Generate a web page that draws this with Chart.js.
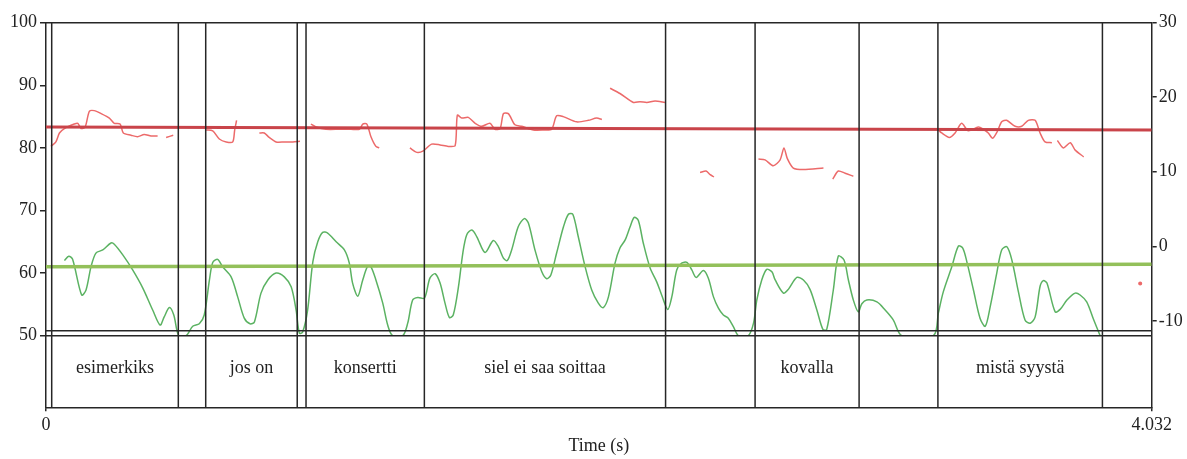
<!DOCTYPE html>
<html>
<head>
<meta charset="utf-8">
<script src="https://cdn.jsdelivr.net/npm/chart.js@4"></script>
<style>
html, body { margin: 0; padding: 0; background: #fff; }
#wrap { width: 1187px; height: 459px; }
</style>
</head>
<body>
<div id="wrap"><canvas id="chart" width="1187" height="459"></canvas></div>
<script>
// time axis (s)
const timeMin = 0;
const timeMax = 4.032;
const timeTicks = [0, 4.032];
const dbTicks = [50, 60, 70, 80, 90, 100];
const stTicks = [-10, 0, 10, 20, 30];

// intensity contour (dB, left axis)
const intensityTimes = [
    0.067, 0.083, 0.097, 0.130, 0.146, 0.164, 0.182, 0.207, 0.237, 0.249, 0.280, 0.316, 0.353, 0.389, 0.416,
    0.431, 0.450, 0.466, 0.484, 0.511, 0.535, 0.559, 0.577, 0.596, 0.608, 0.626, 0.644, 0.675, 0.699, 0.723,
    0.744, 0.760, 0.784, 0.809, 0.839, 0.869, 0.894, 0.912, 0.924, 0.936, 0.954, 0.973, 0.991, 1.009, 1.027,
    1.058, 1.088, 1.106, 1.118, 1.137, 1.155, 1.173, 1.185, 1.203, 1.228, 1.246, 1.264, 1.301, 1.319, 1.337,
    1.356, 1.380, 1.400, 1.419, 1.437, 1.455, 1.471, 1.485, 1.504, 1.520, 1.534, 1.553, 1.571, 1.601, 1.631,
    1.650, 1.668, 1.682, 1.698, 1.722, 1.744, 1.759, 1.783, 1.808, 1.826, 1.841, 1.862, 1.887, 1.905, 1.921,
    1.941, 1.966, 1.990, 2.014, 2.032, 2.051, 2.075, 2.093, 2.112, 2.130, 2.145, 2.160, 2.178, 2.203, 2.227,
    2.245, 2.267, 2.282, 2.300, 2.318, 2.337, 2.355, 2.371, 2.397, 2.415, 2.434, 2.452, 2.470, 2.488, 2.507,
    2.525, 2.561, 2.580, 2.592, 2.610, 2.628, 2.647, 2.659, 2.689, 2.707, 2.738, 2.762, 2.786, 2.811, 2.833,
    2.847, 2.871, 2.889, 2.910, 2.926, 2.944, 2.962, 2.975, 2.993, 3.030, 3.060, 3.090, 3.121, 3.236, 3.254,
    3.272, 3.303, 3.327, 3.343, 3.358, 3.382, 3.406, 3.425, 3.443, 3.467, 3.485, 3.504, 3.522, 3.546, 3.570,
    3.589, 3.607, 3.625, 3.637, 3.650, 3.680, 3.698, 3.723, 3.753, 3.771, 3.795, 3.819, 3.844
];
const intensityDb = [
    62.0, 62.7, 62.2, 56.5, 57.3, 61.0, 63.2, 63.7, 64.8, 64.6, 62.9, 60.5, 57.6, 54.1, 51.7,
    53.0, 54.5, 53.3, 50.0, 50.0, 51.5, 51.9, 53.3, 58.9, 61.7, 62.2, 61.0, 59.4, 56.2, 52.8,
    51.9, 52.2, 56.8, 58.9, 60.0, 59.4, 57.8, 54.1, 50.4, 50.6, 54.1, 61.8, 65.0, 66.5, 66.4,
    65.0, 63.7, 61.6, 58.4, 56.3, 58.9, 61.1, 61.0, 58.9, 55.2, 51.7, 50.0, 50.0, 52.0, 55.7,
    56.1, 56.0, 59.2, 59.9, 58.4, 55.2, 52.9, 53.3, 57.8, 63.2, 66.1, 66.9, 65.8, 63.3, 65.2,
    64.2, 62.4, 62.0, 63.7, 67.4, 68.7, 68.0, 63.7, 60.2, 59.1, 59.7, 63.2, 67.4, 69.4, 69.4,
    65.8, 61.0, 57.3, 55.2, 54.5, 56.2, 61.6, 64.0, 65.3, 67.4, 68.9, 68.4, 64.8, 60.8, 58.6,
    56.5, 54.2, 56.2, 60.5, 61.6, 61.7, 60.5, 59.3, 60.4, 59.2, 56.2, 54.4, 53.3, 52.8, 51.4,
    50.0, 50.0, 52.0, 55.7, 58.9, 60.6, 60.2, 58.9, 56.8, 57.4, 59.3, 58.9, 57.4, 54.1, 51.0,
    51.0, 57.3, 62.7, 62.1, 58.9, 55.7, 53.8, 55.1, 55.7, 55.4, 54.1, 52.5, 50.0, 50.0, 53.6,
    57.0, 61.0, 64.3, 64.0, 61.8, 57.3, 52.8, 51.5, 54.6, 60.0, 63.7, 64.2, 62.1, 57.0, 52.5,
    52.0, 53.0, 57.9, 58.8, 58.4, 53.8, 54.2, 55.7, 56.8, 56.5, 55.4, 52.7, 50.0
];

// pitch contour (semitones, right axis); null = unvoiced gap
const pitchTimes = [
    0.018, 0.036, 0.049, 0.067, 0.103, 0.116, 0.128, 0.143, 0.158, 0.176, 0.201, 0.231, 0.249, 0.270, 0.282, 0.310, 0.334, 0.358, 0.383, 0.407, 0.42,
    0.438, 0.464, 0.52,
    0.584, 0.608, 0.632, 0.657, 0.681, 0.688, 0.695, 0.74,
    0.778, 0.796, 0.814, 0.839, 0.869, 0.900, 0.926, 0.95,
    0.966, 0.985, 1.021, 1.070, 1.112, 1.143, 1.155, 1.170, 1.185, 1.203, 1.215, 1.27,
    1.327, 1.352, 1.376, 1.406, 1.437, 1.467, 1.492, 1.500, 1.516, 1.540, 1.565, 1.589, 1.619, 1.637, 1.656, 1.668, 1.686, 1.710, 1.735, 1.777, 1.814, 1.844, 1.862, 1.886, 1.935, 1.978, 2.008, 2.027, 2.04,
    2.057, 2.093, 2.142, 2.166, 2.191, 2.221, 2.257, 2.32,
    2.385, 2.407, 2.422, 2.436, 2.52,
    2.598, 2.622, 2.652, 2.677, 2.691, 2.703, 2.725, 2.762, 2.835, 2.85,
    2.869, 2.889, 2.914, 2.944, 3.1,
    3.254, 3.266, 3.294, 3.315, 3.339, 3.363, 3.400, 3.418, 3.436, 3.452, 3.469, 3.485, 3.503, 3.534, 3.558, 3.582, 3.607, 3.625, 3.643, 3.668, 3.678,
    3.688, 3.710, 3.735, 3.753, 3.784, 3.9,
    3.990
];
const pitchSt = [
    13.4, 14.0, 15.2, 15.8, 16.4, 16.5, 15.8, 16.0, 18.1, 18.2, 17.8, 17.2, 16.5, 16.4, 15.2, 14.9, 14.7, 15.0, 14.8, 14.8, null,
    14.6, 14.9, null,
    15.6, 15.5, 14.4, 14.0, 14.0, 15.6, 16.9, null,
    15.2, 15.2, 14.6, 14.0, 14.0, 14.0, 14.1, null,
    16.4, 16.0, 15.7, 15.7, 15.7, 15.7, 16.4, 16.4, 14.7, 13.4, 13.2, null,
    13.2, 12.6, 12.8, 13.7, 13.6, 13.4, 13.5, 17.6, 17.2, 17.3, 16.5, 16.1, 16.5, 15.7, 15.8, 17.8, 17.8, 16.3, 16.1, 15.6, 15.6, 15.7, 17.5, 17.4, 16.7, 16.9, 17.2, 17.0, null,
    21.2, 20.5, 19.3, 19.4, 19.3, 19.5, 19.3, null,
    9.9, 10.1, 9.6, 9.3, null,
    11.7, 11.6, 10.8, 11.6, 13.2, 11.8, 10.5, 10.3, 10.5, null,
    9.0, 10.1, 9.8, 9.4, null,
    15.6, 15.2, 14.6, 15.2, 16.5, 15.5, 16.0, 15.7, 15.2, 14.5, 15.4, 16.7, 16.9, 16.1, 16.1, 16.9, 16.9, 15.2, 14.0, 13.9, null,
    14.2, 13.2, 13.9, 12.9, 12.0, null,
    -5.0
];

// fitted mean lines (start, end)
const pitchTrend = [16.0, 15.6];
const intensityTrend = [61.0, 61.4];

// text tier
const tierBounds = [0.0208, 0.4825, 0.5824, 0.9161, 0.9482, 1.3797, 2.2593, 2.5857, 2.9650, 3.2524, 3.8523];
const tierLabels = ['esimerkiks', '', 'jos on', '', 'konsertti', 'siel ei saa soittaa', '', 'kovalla', '', 'mistä syystä', ''];

const FONT = '"Liberation Serif", "Times New Roman", serif';
const INK = '#262626';
// contours stop at the bottom of the plot panel, the tier sits below it
const PANEL_CLIP = { left: 0, top: 0, right: 0, bottom: -71.6 };

const toPoints = (xs, ys) => xs.map((t, i) => ({ x: t, y: ys[i] }));

const tierPlugin = {
    id: 'tier',
    afterDatasetsDraw(chart) {
        const { ctx, chartArea: a, scales } = chart;
        const x = scales.x;
        const y50 = scales.yL.getPixelForValue(50);
        ctx.save();
        ctx.strokeStyle = INK;
        ctx.lineWidth = 1.5;
        ctx.beginPath();
        ctx.moveTo(a.left, a.top); ctx.lineTo(a.right, a.top);
        ctx.moveTo(a.left, y50); ctx.lineTo(a.right, y50);
        ctx.moveTo(a.left, y50 - 5); ctx.lineTo(a.right, y50 - 5);
        tierBounds.forEach(t => {
            const px = x.getPixelForValue(t);
            ctx.moveTo(px, a.top); ctx.lineTo(px, a.bottom);
        });
        ctx.stroke();

        ctx.fillStyle = '#222';
        ctx.font = '18px ' + FONT;
        ctx.textAlign = 'center';
        ctx.textBaseline = 'middle';
        const ty = (y50 + a.bottom) / 2 - 3;
        tierLabels.forEach((label, i) => {
            if (!label) return;
            const x0 = x.getPixelForValue(tierBounds[i]);
            const x1 = x.getPixelForValue(tierBounds[i + 1] ?? timeMax);
            ctx.fillText(label, (x0 + x1) / 2, ty);
        });
        ctx.restore();
    }
};

new Chart(document.getElementById('chart'), {
    type: 'line',
    data: {
        datasets: [
            {
                data: toPoints([timeMin, timeMax], pitchTrend),
                yAxisID: 'yR',
                borderColor: '#c9444a',
                borderWidth: 3,
                pointRadius: 0
            },
            {
                data: toPoints([timeMin, timeMax], intensityTrend),
                yAxisID: 'yL',
                borderColor: '#93c05a',
                borderWidth: 3.5,
                pointRadius: 0
            },
            {
                data: toPoints(pitchTimes, pitchSt),
                yAxisID: 'yR',
                borderColor: '#ec6a6a',
                backgroundColor: '#ec6a6a',
                borderWidth: 1.5,
                spanGaps: false,
                tension: 0.25,
                clip: PANEL_CLIP,
                pointRadius: (c) => {
                    const i = c.dataIndex;
                    return pitchSt[i] !== null && pitchSt[i - 1] == null && pitchSt[i + 1] == null ? 1.3 : 0;
                }
            },
            {
                data: toPoints(intensityTimes, intensityDb),
                yAxisID: 'yL',
                borderColor: '#5bb262',
                borderWidth: 1.5,
                tension: 0.3,
                clip: PANEL_CLIP,
                pointRadius: 0
            }
        ]
    },
    options: {
        responsive: false,
        animation: false,
        layout: { padding: { top: 22.7, left: 0, right: 0, bottom: 0 } },
        plugins: { legend: { display: false }, tooltip: { enabled: false } },
        scales: {
            x: {
                type: 'linear',
                min: timeMin,
                max: timeMax,
                afterBuildTicks: (s) => { s.ticks = timeTicks.map(v => ({ value: v })); },
                afterFit: (s) => { s.height = 51.7; },
                ticks: {
                    autoSkip: false,
                    maxRotation: 0,
                    padding: 3,
                    color: '#222',
                    font: { family: FONT, size: 18 },
                    callback: (v) => String(v)
                },
                grid: { drawOnChartArea: false, tickLength: 4, color: INK, lineWidth: 1.5 },
                border: { display: true, color: INK, width: 1.5 },
                title: {
                    display: true,
                    text: 'Time (s)',
                    color: '#222',
                    font: { family: FONT, size: 18 },
                    padding: { top: 0, bottom: 2 }
                }
            },
            yL: {
                position: 'left',
                min: 38.56,
                max: 100,
                afterBuildTicks: (s) => { s.ticks = dbTicks.map(v => ({ value: v })); },
                afterFit: (s) => { s.width = 46; },
                ticks: { padding: 3, color: '#222', font: { family: FONT, size: 18 } },
                grid: { drawOnChartArea: false, tickLength: 6, color: INK, lineWidth: 1.5 },
                border: { display: true, color: INK, width: 1.5 }
            },
            yR: {
                position: 'right',
                min: -21.61,
                max: 30,
                afterBuildTicks: (s) => { s.ticks = stTicks.map(v => ({ value: v })); },
                afterFit: (s) => { s.width = 35.3; },
                ticks: { padding: 2, color: '#222', font: { family: FONT, size: 18 } },
                grid: { drawOnChartArea: false, tickLength: 5, color: INK, lineWidth: 1.5 },
                border: { display: true, color: INK, width: 1.5 }
            }
        }
    },
    plugins: [tierPlugin]
});
</script>
</body>
</html>
